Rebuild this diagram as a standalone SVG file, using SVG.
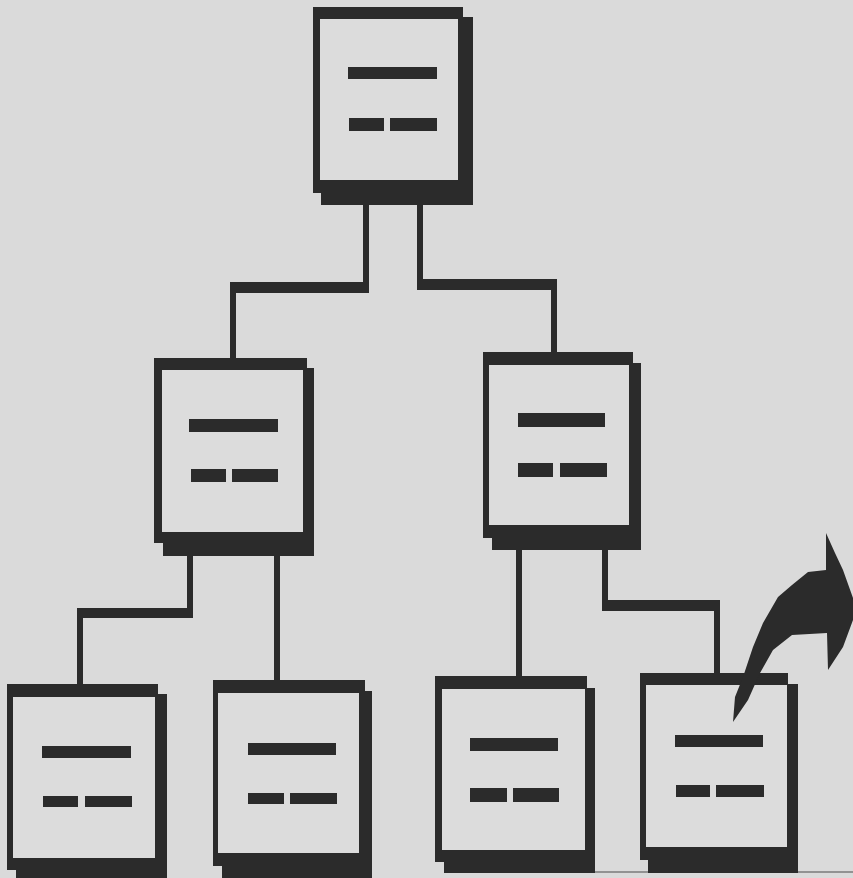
<svg xmlns="http://www.w3.org/2000/svg" width="853" height="878" viewBox="0 0 853 878">
<style>
.ink{fill:#2b2b2b}
.paper{fill:#dadada}
.inner{fill:#dcdcdc}
</style>
<rect x="0" y="0" width="853" height="878" class="paper"/>
<g id="connectors" class="ink">
<path d="M363,200h6v93h-6z M230,282h139v11h-139z M230,282h6v80h-6z"/>
<path d="M417,200h6v90h-6z M417,279h140v11h-140z M551,279h6v77h-6z"/>
<path d="M187,550h6v68h-6z M77,608h116v10h-116z M77,608h6v80h-6z"/>
<path d="M274,550h6v134h-6z"/>
<path d="M516,545h6v135h-6z"/>
<path d="M602,545h6v66h-6z M602,600h118v11h-118z M714,600h6v76h-6z"/>
</g>
<line x1="590" y1="872" x2="853" y2="872" stroke="#7a7a7a" stroke-width="1.5"/>
<g id="node-top">
<rect x="321" y="17" width="152" height="188" class="ink"/>
<rect x="313" y="7" width="150" height="186" class="ink"/>
<rect x="320" y="19" width="138" height="161" class="inner"/>
<rect x="348" y="67" width="89" height="12" class="ink"/>
<rect x="349" y="118" width="35" height="13" class="ink"/>
<rect x="390" y="118" width="47" height="13" class="ink"/>
</g>
<g id="node-mid-left">
<rect x="163" y="368" width="151" height="188" class="ink"/>
<rect x="154" y="358" width="153" height="185" class="ink"/>
<rect x="162" y="370" width="141" height="162" class="inner"/>
<rect x="189" y="419" width="89" height="13" class="ink"/>
<rect x="191" y="469" width="35" height="13" class="ink"/>
<rect x="232" y="469" width="46" height="13" class="ink"/>
</g>
<g id="node-mid-right">
<rect x="492" y="363" width="149" height="187" class="ink"/>
<rect x="483" y="352" width="150" height="186" class="ink"/>
<rect x="489" y="365" width="140" height="160" class="inner"/>
<rect x="518" y="413" width="87" height="14" class="ink"/>
<rect x="518" y="463" width="35" height="14" class="ink"/>
<rect x="560" y="463" width="47" height="14" class="ink"/>
</g>
<g id="node-bottom-1">
<rect x="16" y="694" width="151" height="190" class="ink"/>
<rect x="7" y="684" width="151" height="186" class="ink"/>
<rect x="13" y="697" width="142" height="161" class="inner"/>
<rect x="42" y="746" width="89" height="12" class="ink"/>
<rect x="43" y="796" width="35" height="11" class="ink"/>
<rect x="85" y="796" width="47" height="11" class="ink"/>
</g>
<g id="node-bottom-2">
<rect x="222" y="691" width="150" height="193" class="ink"/>
<rect x="213" y="680" width="152" height="186" class="ink"/>
<rect x="218" y="693" width="141" height="160" class="inner"/>
<rect x="248" y="743" width="88" height="12" class="ink"/>
<rect x="248" y="793" width="36" height="11" class="ink"/>
<rect x="290" y="793" width="47" height="11" class="ink"/>
</g>
<g id="node-bottom-3">
<rect x="444" y="688" width="151" height="185" class="ink"/>
<rect x="435" y="676" width="152" height="186" class="ink"/>
<rect x="442" y="689" width="143" height="161" class="inner"/>
<rect x="470" y="738" width="88" height="13" class="ink"/>
<rect x="470" y="788" width="37" height="14" class="ink"/>
<rect x="513" y="788" width="46" height="14" class="ink"/>
</g>
<g id="node-bottom-4">
<rect x="648" y="684" width="150" height="189" class="ink"/>
<rect x="640" y="673" width="148" height="187" class="ink"/>
<rect x="646" y="685" width="141" height="162" class="inner"/>
<rect x="675" y="735" width="88" height="12" class="ink"/>
<rect x="676" y="785" width="34" height="12" class="ink"/>
<rect x="716" y="785" width="48" height="12" class="ink"/>
</g>
<g id="arrow">
<path class="ink" d="M733,722 L735,697 L743,677 L753,647 L763,623 L778,597 L792,585 L808,572 L826,570 L826,533 L835,553 L843,570 L853,598 L853,620 L843,647 L828,670 L827,633 L792,635 L773,650 L760,673 L748,700 Z"/>
</g>
</svg>
